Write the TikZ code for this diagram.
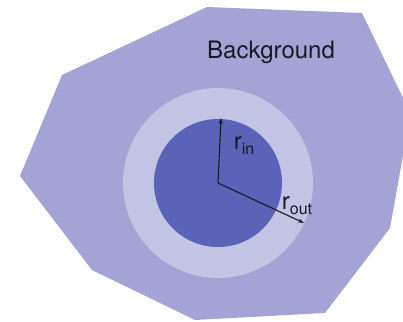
\documentclass[tikz,border=0pt]{standalone}
\usepackage{fontspec}
\setmainfont{TeX Gyre Heros}
\usepackage{tikz}
\usetikzlibrary{arrows.meta, positioning, calc}
\usepackage{xcolor}
\definecolor{BG}{RGB}{163,163,214}
\definecolor{RO}{RGB}{194,196,228}
\definecolor{RI}{RGB}{90,99,183}
\definecolor{DG}{RGB}{25,25,35}

\begin{document}
\begin{tikzpicture}[x=1pt, y=-1pt,
  rad/.style={-{Stealth[length=6pt,width=4pt]}, DG, line width=1.1pt},
  rlbl/.style={font=\fontsize{24}{26}\selectfont, text=DG, inner sep=0pt},
  blbl/.style={font=\fontsize{24}{28}\selectfont, text=DG}
]
\useasboundingbox (0,0) rectangle (403,321);
% Background region
\fill[BG] (207,7) -- (362,13) -- (404,100) -- (404,150) -- (390,228)
  -- (325,313) -- (195,320) -- (92,270) -- (20,176) -- (62,75) -- cycle;
\node[blbl] (bg) at (271,52) {Background};

% Outer and inner circles
\coordinate (c) at (218,183);
\fill[RO] (c) circle (95);
\fill[RI] (c) circle (64);

% Radii
\coordinate (rinEnd) at (221,118);
\coordinate (routEnd) at (304,223);
\draw[rad] (c) -- (rinEnd);
\draw[rad] (c) -- (routEnd);
\node[rlbl] (rin) at (244,146) {r\raisebox{-0.4ex}{\fontsize{16}{17}\selectfont in}};
\node[rlbl] (rout) at (297,206) {r\raisebox{-0.4ex}{\fontsize{16}{17}\selectfont out}};
\end{tikzpicture}
\end{document}
